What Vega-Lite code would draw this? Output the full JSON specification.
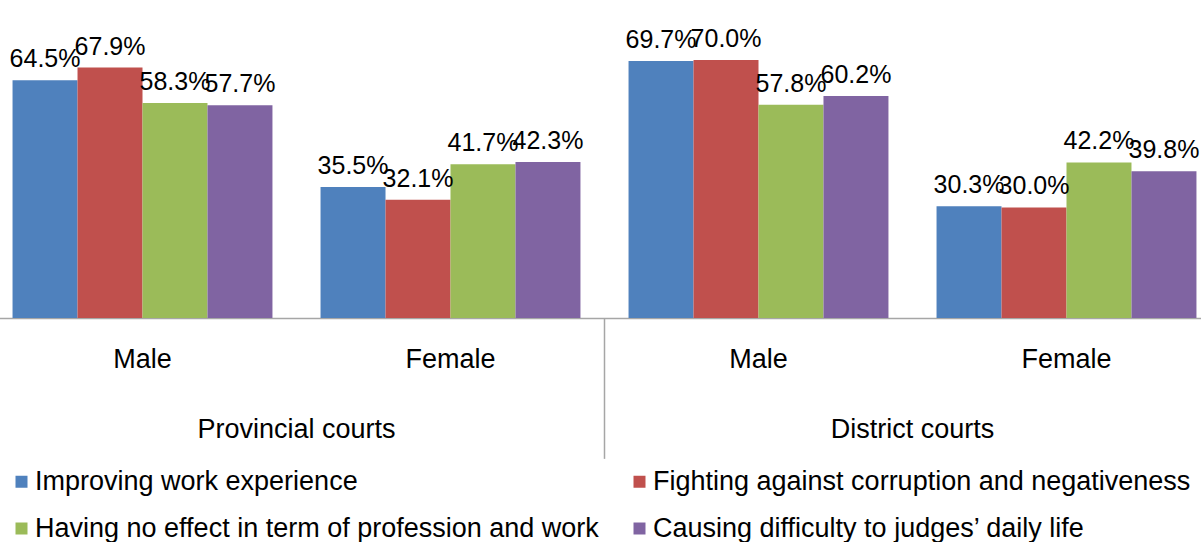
{
  "$schema": "https://vega.github.io/schema/vega-lite/v6.json",
  "width": 1194,
  "height": 295,
  "autosize": {"type": "none"},
  "padding": {"left": 7, "top": 23, "right": 0, "bottom": 224},
  "background": "white",
  "config": {"view": {"stroke": null}, "font": "Liberation Sans"},
  "datasets": {
    "bars": [
      {"group": "Provincial courts|Male", "series": "Improving work experience", "value": 0.645},
      {"group": "Provincial courts|Male", "series": "Fighting against corruption and negativeness", "value": 0.679},
      {"group": "Provincial courts|Male", "series": "Having no effect in term of profession and work", "value": 0.583},
      {"group": "Provincial courts|Male", "series": "Causing difficulty to judges’ daily life", "value": 0.577},
      {"group": "Provincial courts|Female", "series": "Improving work experience", "value": 0.355},
      {"group": "Provincial courts|Female", "series": "Fighting against corruption and negativeness", "value": 0.321},
      {"group": "Provincial courts|Female", "series": "Having no effect in term of profession and work", "value": 0.417},
      {"group": "Provincial courts|Female", "series": "Causing difficulty to judges’ daily life", "value": 0.423},
      {"group": "District courts|Male", "series": "Improving work experience", "value": 0.697},
      {"group": "District courts|Male", "series": "Fighting against corruption and negativeness", "value": 0.700},
      {"group": "District courts|Male", "series": "Having no effect in term of profession and work", "value": 0.578},
      {"group": "District courts|Male", "series": "Causing difficulty to judges’ daily life", "value": 0.602},
      {"group": "District courts|Female", "series": "Improving work experience", "value": 0.303},
      {"group": "District courts|Female", "series": "Fighting against corruption and negativeness", "value": 0.300},
      {"group": "District courts|Female", "series": "Having no effect in term of profession and work", "value": 0.422},
      {"group": "District courts|Female", "series": "Causing difficulty to judges’ daily life", "value": 0.398}
    ],
    "courts": [
      {"group": "Provincial courts|Male", "court": "Provincial courts"},
      {"group": "District courts|Male", "court": "District courts"}
    ],
    "separator": [
      {"group": "District courts|Male"}
    ]
  },
  "layer": [
    {
      "data": {"name": "bars"},
      "mark": {"type": "bar"},
      "encoding": {
        "x": {
          "field": "group",
          "type": "nominal",
          "scale": {
            "domain": ["Provincial courts|Male", "Provincial courts|Female", "District courts|Male", "District courts|Female"],
            "range": [-18.5, 1213.5],
            "paddingInner": 0,
            "paddingOuter": 0
          },
          "axis": {
            "title": null,
            "labelExpr": "split(datum.value, '|')[1]",
            "labelAngle": 0,
            "ticks": false,
            "labelFontSize": 27,
            "labelColor": "black",
            "labelPadding": 28,
            "domainColor": "#A6A6A6",
            "domainWidth": 1.5
          }
        },
        "xOffset": {
          "field": "series",
          "type": "nominal",
          "scale": {
            "domain": ["Improving work experience", "Fighting against corruption and negativeness", "Having no effect in term of profession and work", "Causing difficulty to judges’ daily life"],
            "paddingInner": 0,
            "paddingOuter": 0.37
          }
        },
        "y": {"field": "value", "type": "quantitative", "scale": {"domain": [0, 0.8], "nice": false}, "axis": null},
        "color": {
          "field": "series",
          "type": "nominal",
          "scale": {
            "domain": ["Improving work experience", "Fighting against corruption and negativeness", "Having no effect in term of profession and work", "Causing difficulty to judges’ daily life"],
            "range": ["#4F81BD", "#C0504D", "#9BBB59", "#8064A2"]
          },
          "legend": {
            "title": null,
            "orient": "none",
            "direction": "horizontal",
            "legendX": 1,
            "legendY": 445,
            "columns": 2,
            "columnPadding": 27,
            "rowPadding": 19,
            "symbolType": "square",
            "symbolSize": 144,
            "symbolStrokeWidth": 0,
            "symbolOpacity": 1,
            "labelFontSize": 27,
            "labelColor": "black",
            "labelOffset": 0,
            "labelLimit": 800,
            "padding": 0
          }
        }
      }
    },
    {
      "data": {"name": "bars"},
      "mark": {"type": "text", "baseline": "alphabetic", "dy": -13, "fontSize": 25, "color": "black"},
      "encoding": {
        "x": {"field": "group", "type": "nominal"},
        "xOffset": {"field": "series", "type": "nominal"},
        "y": {"field": "value", "type": "quantitative"},
        "text": {"field": "value", "type": "quantitative", "format": ".1%"}
      }
    },
    {
      "data": {"name": "courts"},
      "mark": {"type": "text", "baseline": "top", "fontSize": 27, "color": "black"},
      "encoding": {
        "x": {"field": "group", "type": "nominal", "bandPosition": 1},
        "y": {"datum": -0.269, "type": "quantitative"},
        "text": {"field": "court"}
      }
    },
    {
      "data": {"name": "separator"},
      "mark": {"type": "rule", "color": "#A6A6A6", "strokeWidth": 1.5},
      "encoding": {
        "x": {"field": "group", "type": "nominal", "bandPosition": 0},
        "y": {"datum": 0, "type": "quantitative"},
        "y2": {"datum": -0.382}
      }
    }
  ]
}
